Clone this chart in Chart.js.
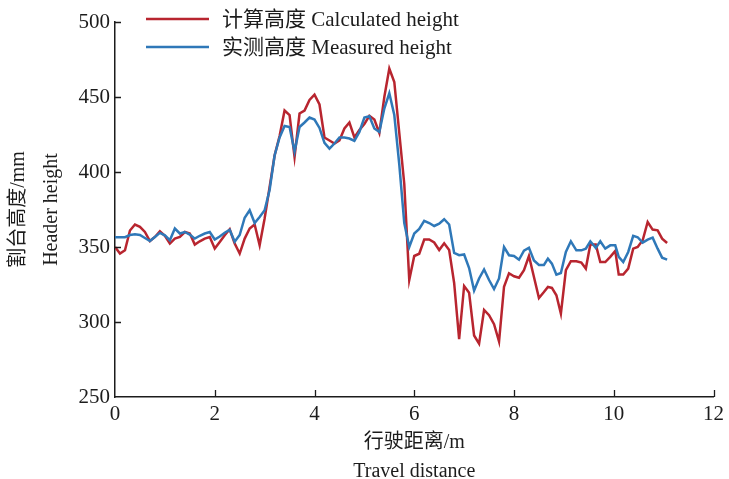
<!DOCTYPE html>
<html>
<head>
<meta charset="utf-8">
<script src="https://cdn.jsdelivr.net/npm/chart.js@4.4.1/dist/chart.umd.min.js"></script>
<style>
  html, body { margin: 0; padding: 0; background: #ffffff; }
  #wrap { width: 729px; height: 479px; }
</style>
</head>
<body>
<div id="wrap"><canvas id="c" width="729" height="479"></canvas></div>
<script>
// Travel distance of each sample (m)
const distance = [
  0.0, 0.1, 0.2, 0.3, 0.4, 0.5, 0.6, 0.7, 0.8, 0.9,
  1.0, 1.1, 1.2, 1.3, 1.4, 1.5, 1.6, 1.7, 1.8, 1.9,
  2.0, 2.1, 2.2, 2.3, 2.4, 2.5, 2.6, 2.7, 2.8, 2.9,
  3.0, 3.1, 3.2, 3.3, 3.4, 3.5, 3.6, 3.7, 3.8, 3.9,
  4.0, 4.1, 4.2, 4.3, 4.4, 4.5, 4.6, 4.7, 4.8, 4.9,
  5.0, 5.1, 5.2, 5.3, 5.4, 5.5, 5.6, 5.7, 5.8, 5.9,
  6.0, 6.1, 6.2, 6.3, 6.4, 6.5, 6.6, 6.7, 6.8, 6.9,
  7.0, 7.1, 7.2, 7.3, 7.4, 7.5, 7.6, 7.7, 7.8, 7.9,
  8.0, 8.1, 8.2, 8.3, 8.4, 8.5, 8.6, 8.68, 8.76, 8.85,
  8.94, 9.04, 9.14, 9.25, 9.35, 9.44, 9.53, 9.64, 9.73, 9.83,
  9.93, 10.03, 10.1, 10.19, 10.29, 10.39, 10.48, 10.58, 10.68, 10.78,
  10.88, 10.97, 11.07
];

// Calculated header height (mm)
const calculatedHeight = [
  350, 345.6, 347.8, 361, 365, 363.4, 360, 354, 356.7, 360.5,
  357.4, 352.3, 355.6, 356.7, 360, 359, 351.6, 353.8, 355.6, 356.7,
  349, 353.4, 357.8, 361.8, 352.3, 345.6, 355.6, 362.3, 365, 351.2,
  369, 390, 411, 424, 441, 438, 410, 439, 441, 448,
  451.5, 445, 423, 421, 419, 421, 429, 433, 423, 428,
  432, 437.5, 435, 426, 450, 469, 460, 426, 392, 328,
  344, 345.5, 355, 355, 353, 348, 352.5, 348, 326, 288.5,
  324, 319.5, 291, 285.5, 308, 304.5, 298.5, 287, 323.5, 332.5,
  330.5, 329.5, 334.5, 344, 330, 316, 320, 323.4, 322.7, 317.8,
  305.6, 334.5, 340.5, 340.5, 339.6, 335.6, 351.6, 351.6, 340, 340,
  343.4, 347.4, 331.6, 331.6, 335.6, 348.9, 350, 354.5, 366.7, 361.6,
  361.1, 355.6, 352.7
];

// Measured header height (mm)
const measuredHeight = [
  356.5, 356.5, 356.5, 358, 358.5, 358, 356, 354, 356.7, 359.4,
  357.8, 354.5, 362.3, 359, 360, 358.3, 355.6, 357.5, 359, 360,
  355, 357, 359.5, 361.5, 353.5, 358, 369.5, 374.5, 366, 370,
  374.5, 388, 411, 423, 430.7, 430, 413.5, 430, 433, 436.3,
  435, 429.4, 419.4, 415.6, 419, 423, 423, 422.3, 420.7, 426.7,
  436.3, 437.2, 429, 426.7, 442.3, 452.5, 438, 405, 366, 350,
  359, 362, 367.5, 366, 364, 365.5, 368.5, 365, 346, 344.5,
  345, 336, 321, 329, 335, 328, 322, 329, 350, 344.5,
  344, 341.5, 347.5, 349.5, 341, 338, 338, 342.2, 338.9, 331.6,
  332.7, 346.7, 353.8, 347.8, 347.8, 348.9, 353.8, 349.4, 353.8, 348.9,
  351.1, 351.1, 343.4, 340, 346.7, 357.4, 356.5, 352.9, 354.9, 356.2,
  348.9, 342.9, 341.6
];

const xTickValues = [0, 2, 4, 6, 8, 10, 12];
const yTickValues = [250, 300, 350, 400, 450, 500];
const seriesNames = ['计算高度 Calculated height', '实测高度 Measured height'];
const xTitle = ['行驶距离/m', 'Travel distance'];
const yTitle = ['割台高度/mm', 'Header height'];

const RED = '#b8252f';
const BLUE = '#2f78b8';
const INK = '#1c1c1c';
const FONT_FAMILY = '"Liberation Serif", "Times New Roman", "Noto Sans CJK SC", serif';

const toPoints = (ys) => ys.map((v, i) => ({ x: distance[i], y: v }));

// Short tick marks pointing into the plot area
const inwardTicks = {
  id: 'inwardTicks',
  afterDraw(chart) {
    const { ctx, scales: { x, y } } = chart;
    ctx.save();
    ctx.strokeStyle = INK;
    ctx.lineWidth = 1.3;
    ctx.beginPath();
    x.ticks.forEach(t => {
      if (t.value === x.min) return;
      const px = Math.round(x.getPixelForValue(t.value)) + 0.5;
      ctx.moveTo(px, x.top);
      ctx.lineTo(px, x.top - 7);
    });
    y.ticks.forEach(t => {
      if (t.value === y.min) return;
      const py = Math.round(y.getPixelForValue(t.value)) + 0.5;
      ctx.moveTo(y.right, py);
      ctx.lineTo(y.right + 6, py);
    });
    ctx.stroke();
    ctx.restore();
  }
};

// Legend stacked in the upper-left corner of the plot
const cornerLegend = {
  id: 'cornerLegend',
  afterDraw(chart) {
    const { ctx, chartArea } = chart;
    const x0 = chartArea.left + 31;
    const len = 63;
    const rows = [19, 47];
    ctx.save();
    ctx.font = '21px ' + FONT_FAMILY;
    ctx.textBaseline = 'middle';
    ctx.textAlign = 'left';
    chart.data.datasets.forEach((ds, i) => {
      const yy = rows[i];
      ctx.strokeStyle = ds.borderColor;
      ctx.lineWidth = 2.5;
      ctx.beginPath();
      ctx.moveTo(x0, yy);
      ctx.lineTo(x0 + len, yy);
      ctx.stroke();
      ctx.fillStyle = INK;
      ctx.fillText(ds.label, x0 + len + 13, yy + 1);
    });
    ctx.restore();
  }
};

new Chart(document.getElementById('c'), {
  type: 'line',
  data: {
    datasets: [
      {
        label: seriesNames[0],
        data: toPoints(calculatedHeight),
        borderColor: RED,
        borderWidth: 2.5,
        pointRadius: 0,
        tension: 0,
        order: 1
      },
      {
        label: seriesNames[1],
        data: toPoints(measuredHeight),
        borderColor: BLUE,
        borderWidth: 2.5,
        pointRadius: 0,
        tension: 0,
        order: 0
      }
    ]
  },
  options: {
    responsive: false,
    animation: false,
    devicePixelRatio: 1,
    layout: { padding: { top: 22, right: 13, left: 0, bottom: 0 } },
    plugins: {
      legend: { display: false },
      tooltip: { enabled: false }
    },
    scales: {
      x: {
        type: 'linear',
        min: 0,
        max: 12,
        afterBuildTicks: s => { s.ticks = xTickValues.map(v => ({ value: v })); },
        afterFit: s => { s.height = 82; },
        grid: { display: false, drawTicks: false, tickLength: 0 },
        border: { display: true, color: INK, width: 1.5 },
        ticks: { color: INK, padding: 5, maxRotation: 0, font: { family: FONT_FAMILY, size: 21 } },
        title: {
          display: true,
          text: xTitle,
          color: INK,
          font: { family: FONT_FAMILY, size: 20, lineHeight: '29px' },
          padding: { top: 0, bottom: -7 }
        }
      },
      y: {
        type: 'linear',
        min: 250,
        max: 500,
        afterBuildTicks: s => { s.ticks = yTickValues.map(v => ({ value: v })); },
        afterFit: s => { s.width = 115; },
        grid: { display: false, drawTicks: false, tickLength: 0 },
        border: { display: true, color: INK, width: 1.5 },
        ticks: { color: INK, padding: 5, font: { family: FONT_FAMILY, size: 21 } },
        title: {
          display: true,
          text: yTitle,
          color: INK,
          font: { family: FONT_FAMILY, size: 20, lineHeight: '33px' },
          padding: { top: 2, bottom: 0 }
        }
      }
    }
  },
  plugins: [inwardTicks, cornerLegend]
});
</script>
</body>
</html>
